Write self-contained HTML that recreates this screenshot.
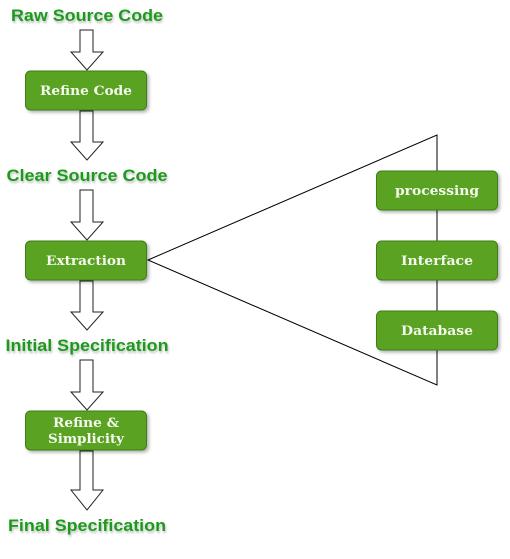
<!DOCTYPE html>
<html><head><style>body{margin:0;background:#fff}</style></head><body>
<svg width="510" height="554" xmlns="http://www.w3.org/2000/svg" font-family="Liberation Sans, sans-serif" font-weight="bold">
<defs>
<filter id="s" x="-10%" y="-10%" width="130%" height="140%"><feDropShadow dx="2" dy="2" stdDeviation="1.5" flood-color="#000" flood-opacity="0.3"/></filter>
<filter id="t"><feDropShadow dx="1" dy="2" stdDeviation="1" flood-color="#000" flood-opacity="0.25"/></filter>
</defs>
<g fill="#fff" stroke="#222" stroke-width="1">
<path d="M80,30 H93 V52 H103 L87,70 L71,52 H80 Z"/>
<path d="M80,111 H93 V142 H103 L87,160 L71,142 H80 Z"/>
<path d="M80,190 H93 V222 H103 L87,240 L71,222 H80 Z"/>
<path d="M80,281 H93 V312 H103 L87,330 L71,312 H80 Z"/>
<path d="M80,360 H93 V392 H103 L87,410 L71,392 H80 Z"/>
<path d="M80,451 H93 V490 H103 L87,510 L71,490 H80 Z"/>
</g>
<path d="M148,260 L437,135 V385 Z" fill="none" stroke="#000" stroke-width="1"/>
<g fill="#5aa321" stroke="#3d7f16" stroke-width="1" filter="url(#s)">
<rect x="25.5" y="71" width="121" height="39" rx="5"/>
<rect x="25.5" y="241" width="121" height="39" rx="5"/>
<rect x="25.5" y="411" width="121" height="39" rx="5"/>
<rect x="376.5" y="171" width="121" height="39" rx="5"/>
<rect x="376.5" y="241" width="121" height="39" rx="5"/>
<rect x="376.5" y="311" width="121" height="39" rx="5"/>
</g>
<g fill="#f4f8ee" font-family="DejaVu Serif, serif" font-size="13" text-anchor="middle">
<text x="86" y="95" textLength="92" lengthAdjust="spacingAndGlyphs">Refine Code</text>
<text x="86" y="265" textLength="80" lengthAdjust="spacingAndGlyphs">Extraction</text>
<text x="86" y="427" textLength="66" lengthAdjust="spacingAndGlyphs">Refine &amp;</text>
<text x="86" y="443" textLength="76" lengthAdjust="spacingAndGlyphs">Simplicity</text>
<text x="437" y="195" textLength="84" lengthAdjust="spacingAndGlyphs">processing</text>
<text x="437" y="265" textLength="72" lengthAdjust="spacingAndGlyphs">Interface</text>
<text x="437" y="335" textLength="72" lengthAdjust="spacingAndGlyphs">Database</text>
</g>
<g fill="#1f9a1f" font-size="17" text-anchor="middle" filter="url(#t)">
<text x="87" y="21" textLength="152" lengthAdjust="spacingAndGlyphs">Raw Source Code</text>
<text x="87" y="181" textLength="161" lengthAdjust="spacingAndGlyphs">Clear Source Code</text>
<text x="87" y="351" textLength="163" lengthAdjust="spacingAndGlyphs">Initial Specification</text>
<text x="87" y="531" textLength="158" lengthAdjust="spacingAndGlyphs">Final Specification</text>
</g>
</svg>
</body></html>
